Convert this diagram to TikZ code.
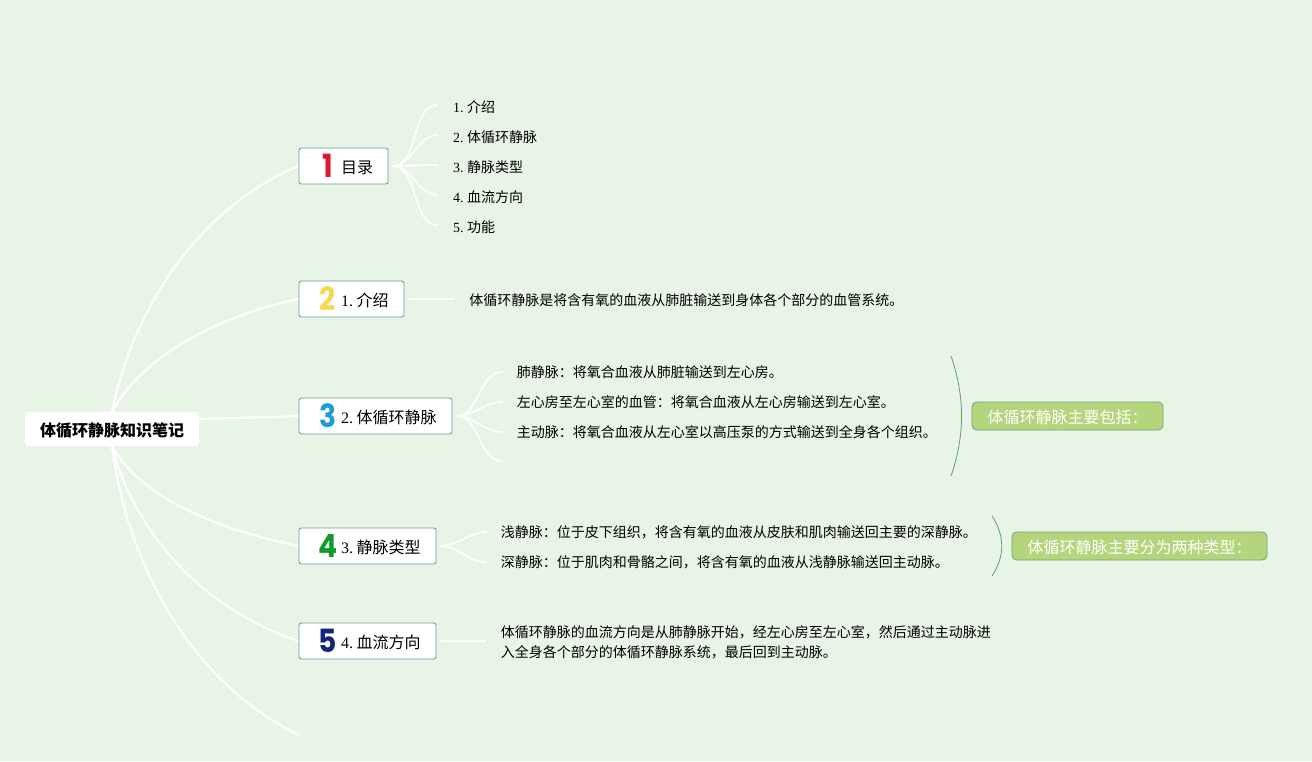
\documentclass[tikz,border=0pt]{standalone}
\usepackage{fontspec}
\setmainfont{Liberation Serif}
\newfontfamily\cjk{Noto Sans CJK SC}
\newfontfamily\digitfont{Poppins}
\newcommand{\ptsz}[2]{\fontsize{#1pt}{#2pt}\selectfont}
\newcommand{\numpre}[1]{#1.\hspace{2.7pt}}
\newcommand{\baseshift}[1]{\rule[-10pt]{0pt}{20pt}\smash{\raisebox{-5.25pt}{#1}}}
% box text: width, digit, digit colour, label
\newcommand{\boxtext}[4]{\rule[-10pt]{0pt}{20pt}\makebox[#1pt][l]{\hspace*{15.75pt}\makebox[12pt][c]{\smash{\raisebox{-8.6pt}{\scalebox{0.88}[1]{\ptsz{24}{24}\digitfont\bfseries\textcolor{#3}{#2}}}}}\hspace{3.75pt}\smash{\raisebox{-5.25pt}{\ptsz{12}{14}#4}}}}
\definecolor{bgc}{HTML}{E8F4E6}
\definecolor{edgec}{HTML}{6A9E96}
\definecolor{greenf}{HTML}{B5D57C}
\definecolor{greene}{HTML}{6FA37C}
\definecolor{bracec}{HTML}{5F9C84}
\definecolor{dred}{HTML}{E0162B}
\definecolor{dyellow}{HTML}{F5D84E}
\definecolor{dblue}{HTML}{1F9BD8}
\definecolor{dgreen}{HTML}{109A2A}
\definecolor{dnavy}{HTML}{14257F}
\tikzset{
  rootbox/.style={fill=white,rounded corners=2.5pt,inner sep=0pt,minimum width=130.5pt,minimum height=25.5pt,font=\ptsz{12}{14}\cjk\bfseries},
  topicbox/.style={draw=edgec,line width=0.7pt,fill=white,rounded corners=1.8pt,inner sep=0pt,minimum height=27pt},
  leaf/.style={anchor=west,inner sep=0pt,font=\ptsz{10.5}{15}},
  cjkleaf/.style={leaf,font=\ptsz{10.5}{15}\cjk},
  notebox/.style={draw=greene,line width=0.6pt,fill=greenf,rounded corners=3.5pt,inner sep=0pt,minimum height=21pt,text=white,font=\ptsz{12}{14}\cjk},
  mainline/.style={draw=white,line width=1.6pt,line cap=round},
  subline/.style={draw=white,line width=1.3pt,line cap=round},
  bracearc/.style={draw=bracec,line width=0.6pt}
}
\begin{document}
\begin{tikzpicture}[x=0.75pt,y=-0.75pt]
\pgfdeclarelayer{front}\pgfsetlayers{main,front}
\fill[bgc] (0,0) rectangle (1312,761);
% free ends
\coordinate (end6) at (299,735);
\coordinate (s3x) at (502,461);
\coordinate (b1a) at (951,356);
\coordinate (b1b) at (951,476);
\coordinate (b2a) at (992,516);
\coordinate (b2b) at (992,576);
\begin{pgfonlayer}{front}
\node[rootbox] (root) at (112,429) {\baseshift{体循环静脉知识笔记}};
\node[topicbox] (t1) at (343.5,166) {\boxtext{66.75}{1}{dred}{\cjk 目录}};
\node[topicbox] (t2) at (351.5,299) {\boxtext{78.75}{2}{dyellow}{\numpre{1}{\cjk 介绍}}};
\node[topicbox] (t3) at (375.5,416) {\boxtext{114.75}{3}{dblue}{\numpre{2}{\cjk 体循环静脉}}};
\node[topicbox] (t4) at (367.5,546) {\boxtext{102.75}{4}{dgreen}{\numpre{3}{\cjk 静脉类型}}};
\node[topicbox] (t5) at (367.5,641) {\boxtext{102.75}{5}{dnavy}{\numpre{4}{\cjk 血流方向}}};
\node[leaf] (a1) at (452.8,107.6) {\numpre{1}{\cjk 介绍}};
\node[leaf] (a2) at (452.8,137.6) {\numpre{2}{\cjk 体循环静脉}};
\node[leaf] (a3) at (452.8,167.6) {\numpre{3}{\cjk 静脉类型}};
\node[leaf] (a4) at (452.8,197.6) {\numpre{4}{\cjk 血流方向}};
\node[leaf] (a5) at (452.8,227.6) {\numpre{5}{\cjk 功能}};
\node[cjkleaf] (b1) at (469,300.5) {体循环静脉是将含有氧的血液从肺脏输送到身体各个部分的血管系统。};
\node[cjkleaf] (c1) at (516.6,372.4) {肺静脉：将氧合血液从肺脏输送到左心房。};
\node[cjkleaf] (c2) at (516.6,402.4) {左心房至左心室的血管：将氧合血液从左心房输送到左心室。};
\node[cjkleaf] (c3) at (516.6,432.4) {主动脉：将氧合血液从左心室以高压泵的方式输送到全身各个组织。};
\node[cjkleaf] (d1) at (500.6,532.7) {浅静脉：位于皮下组织，将含有氧的血液从皮肤和肌肉输送回主要的深静脉。};
\node[cjkleaf] (d2) at (500.6,562.7) {深静脉：位于肌肉和骨骼之间，将含有氧的血液从浅静脉输送回主动脉。};
\node[cjkleaf,align=left] (e1) at (500.6,642.7) {体循环静脉的血流方向是从肺静脉开始，经左心房至左心室，然后通过主动脉进\\入全身各个部分的体循环静脉系统，最后回到主动脉。};
\node[notebox,minimum width=143.25pt] (n1) at (1067.5,416) {\baseshift{体循环静脉主要包括：}};
\node[notebox,minimum width=191.25pt] (n2) at (1139.5,546) {\baseshift{体循环静脉主要分为两种类型：}};
\end{pgfonlayer}
% main branches
\draw[mainline] (root.north) .. controls (135,300) and (205,205) .. (t1.west);
\draw[mainline] (root.north) .. controls (140,360) and (210,318) .. (t2.west);
\draw[mainline] ([yshift=7.5pt]root.east) -- (t3.west);
\draw[mainline] (root.south) .. controls (140,495) and (210,528) .. (t4.west);
\draw[mainline] (root.south) .. controls (135,535) and (205,610) .. (t5.west);
\draw[mainline] (root.south) .. controls (128,570) and (195,685) .. (end6);
% sub branches
\foreach \n in {a1,a2,a3,a4,a5}
  \draw[subline] ([xshift=3pt]t1.east) to[out=0,in=180,looseness=0.9] ([xshift=-11.5pt,yshift=2pt]\n.west);
\draw[subline] ([xshift=3pt]t2.east) -- ([xshift=-11.5pt]b1.west |- t2.east);
\foreach \n in {c1,c2,c3}
  \draw[subline] ([xshift=3pt]t3.east) to[out=0,in=180,looseness=0.9] ([xshift=-11pt,yshift=0.3pt]\n.west);
\draw[subline] ([xshift=3pt]t3.east) to[out=0,in=180,looseness=0.9] (s3x);
\foreach \n in {d1,d2}
  \draw[subline] ([xshift=3pt]t4.east) to[out=0,in=180,looseness=0.9] ([xshift=-11pt,yshift=0.5pt]\n.west);
\draw[subline] ([xshift=3pt]t5.east) -- ([xshift=-11pt]e1.west |- t5.east);
% summary arcs
\draw[bracearc] (b1a) .. controls (965,396) and (965,436) .. (b1b);
\draw[bracearc] (b2a) .. controls (1005,536) and (1005,556) .. (b2b);
\end{tikzpicture}
\end{document}
